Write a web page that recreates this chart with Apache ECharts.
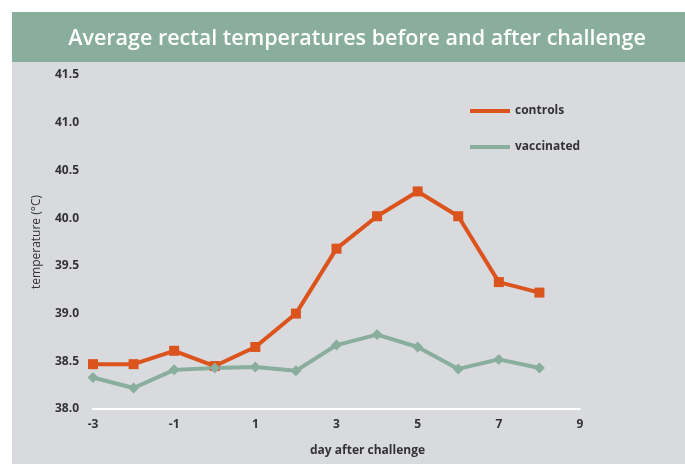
<!DOCTYPE html>
<html>
<head>
<meta charset="utf-8">
<script src="https://cdn.jsdelivr.net/npm/echarts@6/dist/echarts.min.js"></script>
<style>
  html, body { margin: 0; padding: 0; background: #fff; }
  #chart { width: 685px; height: 464px; }
</style>
</head>
<body>
<div id="chart"></div>
<script>
const days = ['-3', '-2', '-1', '0', '1', '2', '3', '4', '5', '6', '7', '8', '9']
const controls = [38.47, 38.47, 38.61, 38.45, 38.65, 39.0, 39.68, 40.02, 40.28, 40.02, 39.33, 39.22]
const vaccinated = [38.33, 38.22, 38.41, 38.43, 38.44, 38.40, 38.67, 38.78, 38.65, 38.42, 38.52, 38.43]

const chart = echarts.init(document.getElementById('chart'))

const labelFont = {
  color: '#333',
  fontFamily: 'Open Sans',
  fontWeight: 'bold',
  fontSize: 12
}

const option = {
  backgroundColor: '#fff',
  animation: false,
  graphic: [
    {
      type: 'rect',
      z: -10,
      shape: { x: 12, y: 62, width: 673, height: 402 },
      style: { fill: '#d9dadd' }
    },
    {
      type: 'rect',
      z: -10,
      shape: { x: 12, y: 12, width: 673, height: 50 },
      style: { fill: '#8aae9e' }
    },
    {
      type: 'text',
      x: 357,
      y: 39,
      style: {
        text: 'Average rectal temperatures before and after challenge',
        fill: '#fff',
        font: '600 21.5px "Open Sans"',
        align: 'center',
        verticalAlign: 'middle'
      }
    }
  ],
  grid: {
    left: 93,
    right: 105,
    top: 75,
    bottom: 55
  },
  legend: {
    orient: 'vertical',
    left: 465,
    top: 100,
    itemGap: 24,
    itemWidth: 40,
    itemHeight: 4,
    icon: 'rect',
    textStyle: labelFont,
    data: ['controls', 'vaccinated']
  },
  xAxis: {
    type: 'category',
    data: days,
    boundaryGap: false,
    name: 'day after challenge',
    nameLocation: 'middle',
    nameGap: 36,
    nameTextStyle: Object.assign({}, labelFont, { padding: [0, 0, 0, 62] }),
    axisLine: { lineStyle: { color: '#fff', width: 2 } },
    axisTick: { show: false },
    axisLabel: Object.assign({}, labelFont, { interval: 1, margin: 10 }),
    splitLine: { show: false }
  },
  yAxis: {
    type: 'value',
    min: 38,
    max: 41.5,
    interval: 0.5,
    name: 'temperature (°C)',
    nameLocation: 'middle',
    nameGap: 50,
    nameTextStyle: { color: '#333', fontFamily: 'Open Sans', fontSize: 12 },
    axisLine: { show: false },
    axisTick: { show: false },
    axisLabel: Object.assign({}, labelFont, {
      margin: 14,
      formatter: v => v.toFixed(1)
    }),
    splitLine: { show: false }
  },
  series: [
    {
      name: 'controls',
      type: 'line',
      data: controls,
      symbol: 'rect',
      symbolSize: 10,
      showAllSymbol: true,
      lineStyle: { color: '#db541d', width: 4 },
      itemStyle: { color: '#db541d' }
    },
    {
      name: 'vaccinated',
      type: 'line',
      data: vaccinated,
      symbol: 'diamond',
      symbolSize: 11,
      showAllSymbol: true,
      lineStyle: { color: '#8aae9e', width: 4 },
      itemStyle: { color: '#8aae9e' }
    }
  ]
}

chart.setOption(option)
</script>
</body>
</html>
